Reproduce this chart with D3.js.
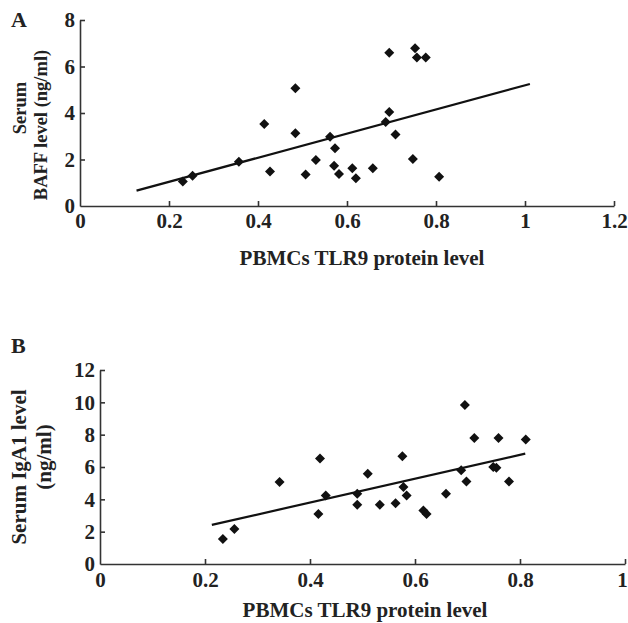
<!DOCTYPE html>
<html>
<head>
<meta charset="utf-8">
<script src="https://cdn.jsdelivr.net/npm/d3@7"></script>
<style>
  body { margin: 0; background: #fff; }
  svg text { font-family: "Liberation Serif", "Times New Roman", serif; font-weight: bold; fill: #222; }
  .axis path, .axis line { stroke: #333; stroke-width: 1.6; }
</style>
</head>
<body>
<script>
// panel A: TLR9 vs serum BAFF
const tlr9A = [0.231, 0.253, 0.357, 0.414, 0.427, 0.484, 0.484, 0.507, 0.530, 0.562, 0.573, 0.571, 0.582,
               0.612, 0.620, 0.658, 0.687, 0.695, 0.695, 0.709, 0.748, 0.753, 0.757, 0.777, 0.807];
const baffA = [1.05, 1.30, 1.90, 3.53, 1.48, 5.06, 3.13, 1.36, 1.98, 2.98, 2.48, 1.73, 1.38,
               1.62, 1.19, 1.62, 3.61, 4.04, 6.59, 3.08, 2.02, 6.78, 6.39, 6.39, 1.26];
const fitA = [[0.127, 0.66], [1.011, 5.25]];
const xTicksA = [0, 0.2, 0.4, 0.6, 0.8, 1, 1.2];
const yTicksA = [0, 2, 4, 6, 8];

// panel B: TLR9 vs serum IgA1
const tlr9B = [0.234, 0.256, 0.342, 0.419, 0.416, 0.430, 0.490, 0.490, 0.510, 0.533, 0.563, 0.576, 0.578,
               0.584, 0.616, 0.622, 0.659, 0.688, 0.695, 0.698, 0.713, 0.749, 0.755, 0.759, 0.779, 0.811];
const igaB  = [1.55, 2.17, 5.07, 6.52, 3.10, 4.24, 4.35, 3.66, 5.59, 3.66, 3.76, 6.66, 4.76,
               4.24, 3.31, 3.10, 4.35, 5.80, 9.83, 5.11, 7.79, 6.00, 5.96, 7.79, 5.11, 7.70];
const fitB = [[0.213, 2.42], [0.81, 6.83]];
const xTicksB = [0, 0.2, 0.4, 0.6, 0.8, 1];
const yTicksB = [0, 2, 4, 6, 8, 10, 12];

const svg = d3.select("body").append("svg")
  .attr("width", 628)
  .attr("height", 623);

const diamond = d3.symbol().type(d3.symbolSquare).size(50);

function panel(o) {
  const x = d3.scaleLinear().domain(o.xDom).range(o.xRange);
  const y = d3.scaleLinear().domain(o.yDom).range(o.yRange);
  const g = svg.append("g");

  const xa = g.append("g").attr("class", "axis")
    .attr("transform", "translate(0," + o.yRange[0] + ")")
    .call(d3.axisBottom(x).tickValues(o.xTicks).tickFormat(d3.format("")).tickSizeInner(-5).tickSizeOuter(0).tickPadding(o.xPad));
  xa.selectAll("text").attr("font-size", 21).attr("fill", "#222");
  // last label sits at the page edge, nudge it in a little
  xa.selectAll(".tick").filter(d => d === o.xDom[1]).select("text").attr("dx", o.lastDx);

  g.append("g").attr("class", "axis")
    .attr("transform", "translate(" + o.xRange[0] + ",0)")
    .call(d3.axisLeft(y).tickValues(o.yTicks).tickFormat(d3.format("")).tickSizeInner(-5).tickSizeOuter(0).tickPadding(5))
    .call(a => a.selectAll("text").attr("font-size", 21).attr("fill", "#222"));
  // no tick at the origin
  g.selectAll(".axis .tick").filter(d => d === 0).select("line").remove();

  g.append("path")
    .datum(o.fit)
    .attr("d", d3.line().x(d => x(d[0])).y(d => y(d[1])))
    .attr("stroke", "#111")
    .attr("stroke-width", 2.2)
    .attr("fill", "none");

  g.selectAll(".pt")
    .data(o.xs.map((v, i) => [v, o.ys[i]]))
    .enter()
    .append("path")
    .attr("d", diamond)
    .attr("transform", d => "translate(" + x(d[0]) + "," + y(d[1]) + ") rotate(45)")
    .attr("fill", "#111");
  return g;
}

panel({ xs: tlr9A, ys: baffA, fit: fitA, xTicks: xTicksA, yTicks: yTicksA, lastDx: 0,
        xDom: [0, 1.2], xRange: [80, 614], yDom: [0, 8], yRange: [206, 20], xPad: 7 });
panel({ xs: tlr9B, ys: igaB, fit: fitB, xTicks: xTicksB, yTicks: yTicksB, lastDx: -3,
        xDom: [0, 1], xRange: [100, 625], yDom: [0, 12], yRange: [564, 370], xPad: 8 });

// panel letters
svg.append("text").attr("x", 11).attr("y", 27).attr("font-size", 22).text("A");
svg.append("text").attr("x", 11).attr("y", 353).attr("font-size", 22).text("B");

// axis titles
function vtitle(cx, cy, size, txt) {
  svg.append("text")
    .attr("transform", "translate(" + cx + "," + cy + ") rotate(-90)")
    .attr("text-anchor", "middle")
    .attr("dominant-baseline", "central")
    .attr("font-size", size)
    .text(txt);
}
vtitle(20, 108, 18.5, "Serum");
vtitle(41, 125, 18.5, "BAFF level (ng/ml)");
vtitle(19, 467, 21, "Serum IgA1 level");
vtitle(44, 457, 21, "(ng/ml)");

svg.append("text").attr("x", 362).attr("y", 265).attr("text-anchor", "middle")
  .attr("font-size", 21).text("PBMCs TLR9 protein level");
svg.append("text").attr("x", 365).attr("y", 617).attr("text-anchor", "middle")
  .attr("font-size", 21).text("PBMCs TLR9 protein level");
</script>
</body>
</html>
